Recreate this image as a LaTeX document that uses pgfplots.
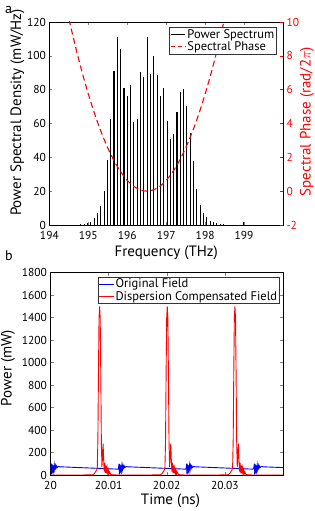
\documentclass[border=0pt]{standalone}
\usepackage{fontspec}
\setmainfont{PT Sans}
\usepackage{pgfplots}
\pgfplotsset{compat=1.18}
\begin{document}
\begin{tikzpicture}
\useasboundingbox (0,0) rectangle (315pt,511pt);
\pgfplotsset{
  common/.style={
    scale only axis,
    tick align=inside,
    major tick length=3pt,
    tick style={line width=0.5pt},
    axis line style={line width=0.6pt},
    tick label style={font=\fontsize{11.5}{12}\selectfont},
    label style={font=\fontsize{15}{16}\selectfont},
    /pgf/number format/assume math mode=true,
    /pgf/number format/1000 sep={},
    scaled ticks=false,
    legend cell align=left,
    legend image code/.code={\draw[#1] (0cm,0cm) -- (0.5cm,0cm);},
    legend style={font=\fontsize{12.5}{13}\selectfont, draw=black!80, line width=0.5pt,
      inner sep=1pt, row sep=0.5pt, nodes={inner ysep=0.8pt, inner xsep=1.5pt}},
  }
}
% ---------------- Panel a ----------------
\begin{axis}[common,
  at={(49.4pt,286pt)}, anchor=south west, width=233.6pt, height=203pt,
  xmin=194, xmax=200, ymin=0, ymax=120,
  xtick={194,195,196,197,198,199}, ytick={0,20,40,60,80,100,120},
  ytick pos=left,
  xticklabel style={yshift=-2.5pt},
  xlabel={Frequency (THz)}, ylabel={Power Spectral Density (mW/Hz)},
  xlabel style={at={(axis description cs:0.5,-0.135)}, anchor=center},
  ylabel style={at={(axis description cs:-0.1366,0.554)}, anchor=center},
]
\addplot[ycomb, black, line width=1.1pt] coordinates {
(194.5542,0.1) (194.6393,0.15) (194.7244,0.2) (194.8095,0.3) (194.8946,0.5)
(194.9797,1.0) (195.0648,2.0) (195.1499,4.2) (195.2350,7.0) (195.3201,11)
(195.4051,20) (195.4902,38.4) (195.5753,62.6) (195.6604,91) (195.7455,111)
(195.8306,104) (195.9157,81) (196.0008,76.4) (196.0859,82.7) (196.1710,61)
(196.2561,62.6) (196.3411,90.6) (196.4262,87.6) (196.5113,111) (196.5964,89)
(196.6815,100) (196.7666,88.6) (196.8517,76.4) (196.9368,80.8) (197.0219,61.5)
(197.1070,51) (197.1921,53.7) (197.2771,66.6) (197.3622,78.6) (197.4473,80.2)
(197.5324,70.5) (197.6175,54.2) (197.7026,37.8) (197.7877,21.5) (197.8728,12)
(197.9579,6.9) (198.0430,4.6) (198.1281,2.6) (198.2131,1.6) (198.2982,1.0)
(198.3833,0.6) (198.4684,0.4) (198.5535,0.25) (198.6386,0.15) (198.7237,0.1)
(198.9790,1.8)
};
\end{axis}
\begin{axis}[common,
  at={(49.4pt,286pt)}, anchor=south west, width=233.6pt, height=203pt,
  xmin=194, xmax=200, ymin=-2, ymax=10,
  axis x line=none, axis y line*=right,
  y axis line style={black},
  ytick={-2,0,2,4,6,8,10},
  ytick style={red}, yticklabel style={red},
  ylabel={Spectral Phase (rad/2$\pi$)},
  ylabel style={red, at={(axis description cs:1.1027,0.51)}, anchor=center},
  legend style={at={(axis description cs:0.974,0.975)}, anchor=north east},
]
\addlegendimage{black, line width=1pt}
\addlegendentry{Power Spectrum}
\addlegendimage{red, line width=1.1pt, dash pattern=on 4pt off 3pt}
\addlegendentry{Spectral Phase}
\addplot[red, line width=1.1pt, dash pattern=on 6pt off 3.5pt, forget plot] coordinates {
(194.4,11.25) (194.5,10.2) (194.6,9.21) (194.7,8.26) (194.8,7.37) (194.9,6.53)
(195.0,5.74) (195.1,5.00) (195.2,4.31) (195.3,3.67) (195.4,3.09) (195.5,2.55)
(195.6,2.07) (195.7,1.63) (195.8,1.25) (195.9,0.918) (196.0,0.6375) (196.1,0.408)
(196.2,0.2295) (196.3,0.102) (196.4,0.0255) (196.5,0) (196.6,0.0255) (196.7,0.102)
(196.8,0.2295) (196.9,0.408) (197.0,0.6375) (197.1,0.918) (197.2,1.25) (197.3,1.63)
(197.4,2.07) (197.5,2.55) (197.6,3.09) (197.7,3.67) (197.8,4.31) (197.9,5.00)
(198.0,5.74) (198.1,6.53) (198.2,7.37) (198.3,8.26) (198.4,9.21) (198.5,10.2)
(198.6,11.25)
};
\end{axis}
% ---------------- Panel b ----------------
\begin{axis}[common,
  at={(50.5pt,36pt)}, anchor=south west, width=232.5pt, height=202.3pt,
  xmin=0, xmax=40, ymin=0, ymax=1800,
  xtick={0,10,20,30}, xticklabels={20,20.01,20.02,20.03},
  ytick={0,200,400,600,800,1000,1200,1400,1600,1800},
  xticklabel style={yshift=-2.5pt},
  xlabel={Time (ns)}, ylabel={Power (mW)},
  xlabel style={at={(axis description cs:0.516,-0.1275)}, anchor=center},
  ylabel style={at={(axis description cs:-0.183,0.529)}, anchor=center},
  legend style={at={(axis description cs:0.987,0.979)}, anchor=north east},
]
\addplot[blue, line width=0.9pt] coordinates {
(0,55) (0.05,58) (0.15,100) (0.2,5) (0.25,96) (0.3,12) (0.35,90) (0.4,22) (0.45,86)
(0.55,38) (0.65,92) (0.75,50) (0.85,86) (0.95,62) (1.05,80) (1.15,66) (1.35,76) (1.65,73)
(11.59,52) (11.69,58) (11.79,100) (11.84,5) (11.89,96) (11.94,12) (11.99,90) (12.04,22) (12.09,86)
(12.19,38) (12.29,92) (12.39,50) (12.49,86) (12.59,62) (12.69,80) (12.79,66) (12.99,76) (13.29,73)
(23.23,52) (23.33,58) (23.43,100) (23.48,5) (23.53,96) (23.58,12) (23.63,90) (23.68,22) (23.73,86)
(23.83,38) (23.93,92) (24.03,50) (24.13,86) (24.23,62) (24.33,80) (24.43,66) (24.63,76) (24.93,73)
(34.87,52) (34.97,58) (35.07,100) (35.12,5) (35.17,96) (35.22,12) (35.27,90) (35.32,22) (35.37,86)
(35.47,38) (35.57,92) (35.67,50) (35.77,86) (35.87,62) (35.97,80) (36.07,66) (36.27,76) (36.57,73)
(40,66)
};
\addlegendentry{Original Field}
\addplot[red, line width=0.9pt] coordinates {
(0,0)
(5.45,0) (7.25,2) (7.55,12) (7.75,30) (7.95,45) (8.05,70) (8.15,300) (8.25,900) (8.35,1400)
(8.45,1500) (8.55,1400) (8.65,900) (8.75,300) (8.85,70) (8.95,160) (9.05,280) (9.15,130)
(9.25,30) (9.35,110) (9.45,20) (9.55,85) (9.65,15) (9.75,60) (9.85,10) (9.95,45) (10.05,8)
(10.15,28) (10.35,5) (10.65,2) (11.45,0)
(17.09,0) (18.89,2) (19.19,12) (19.39,30) (19.59,45) (19.69,70) (19.79,300) (19.89,900) (19.99,1400)
(20.09,1500) (20.19,1400) (20.29,900) (20.39,300) (20.49,70) (20.59,160) (20.69,280) (20.79,130)
(20.89,30) (20.99,110) (21.09,20) (21.19,85) (21.29,15) (21.39,60) (21.49,10) (21.59,45) (21.69,8)
(21.79,28) (21.99,5) (22.29,2) (23.09,0)
(28.73,0) (30.53,2) (30.83,12) (31.03,30) (31.23,45) (31.33,70) (31.43,300) (31.53,900) (31.63,1400)
(31.73,1500) (31.83,1400) (31.93,900) (32.03,300) (32.13,70) (32.23,160) (32.33,280) (32.43,130)
(32.53,30) (32.63,110) (32.73,20) (32.83,85) (32.93,15) (33.03,60) (33.13,10) (33.23,45) (33.33,8)
(33.43,28) (33.63,5) (33.93,2) (34.73,0)
(40,0)
};
\addlegendentry{Dispersion Compensated Field}
\end{axis}
\node[font=\fontsize{14}{14}\selectfont] at (8.5pt,501pt) {a};
\node[font=\fontsize{14}{14}\selectfont] at (9pt,255pt) {b};
\end{tikzpicture}
\end{document}
